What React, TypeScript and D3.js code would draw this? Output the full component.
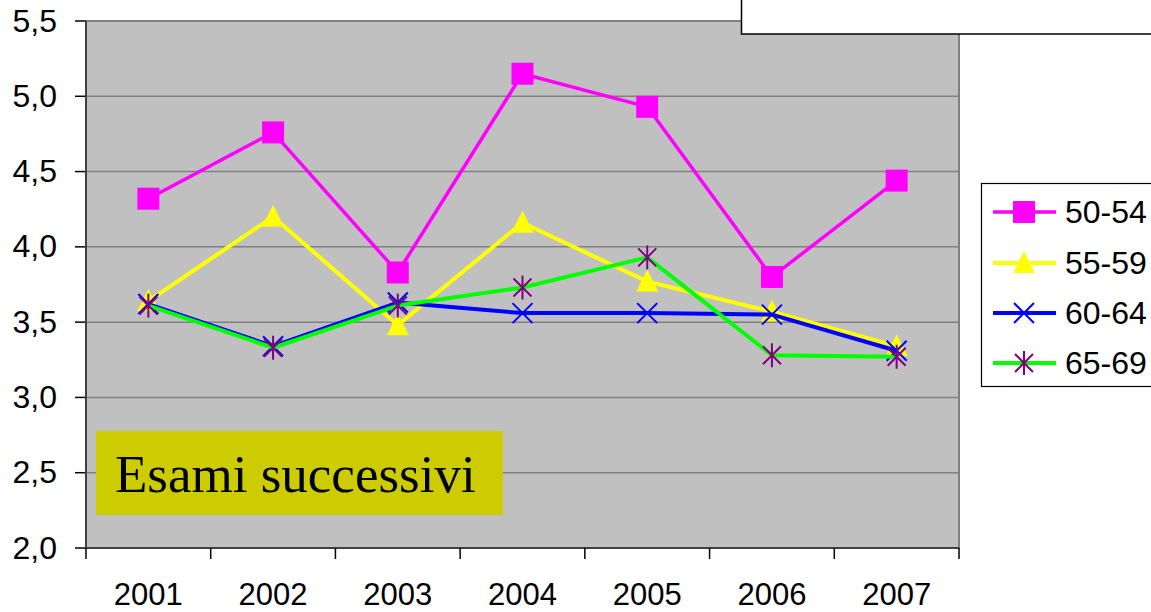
import React from 'react';
import * as d3 from 'd3';

const years = ['2001', '2002', '2003', '2004', '2005', '2006', '2007'];
const seriesNames = ['50-54', '55-59', '60-64', '65-69'];
const values5054 = [4.32, 4.76, 3.83, 5.15, 4.93, 3.80, 4.44];
const values5559 = [3.64, 4.20, 3.48, 4.16, 3.77, 3.57, 3.34];
const values6064 = [3.62, 3.34, 3.63, 3.56, 3.56, 3.55, 3.31];
const values6569 = [3.61, 3.33, 3.61, 3.73, 3.93, 3.28, 3.27];
const yTicks = [2.0, 2.5, 3.0, 3.5, 4.0, 4.5, 5.0, 5.5];

const allValues = [values5054, values5559, values6064, values6569];
const lineColors = ['#FF00FF', '#FFFF00', '#0000FF', '#00FF00'];
const markerTypes = ['square', 'triangle', 'x', 'star'];
const lineWidths = [3.5, 4, 4, 4];

const W = 1151;
const H = 612;
const plot = { left: 86, right: 959, top: 21, bottom: 548 };

const x = d3.scaleBand<string>().domain(years).range([plot.left, plot.right]).padding(0);
const y = d3.scaleLinear().domain([2, 5.5]).range([plot.bottom, plot.top]);
const fmt = (v: number) => v.toFixed(1).replace('.', ',');

function Marker({ type, cx, cy }: { type: string; cx: number; cy: number }) {
    if (type === 'square') {
        return <rect x={cx - 11} y={cy - 11} width={22} height={22} fill="#FF00FF" />;
    }
    if (type === 'triangle') {
        const p = d3.path();
        p.moveTo(cx, cy - 12);
        p.lineTo(cx + 11, cy + 10);
        p.lineTo(cx - 11, cy + 10);
        p.closePath();
        return <path d={p.toString()} fill="#FFFF00" />;
    }
    if (type === 'x') {
        const s = 10;
        return (
            <g stroke="#0000FF" strokeWidth={2}>
                <line x1={cx - s} y1={cy - s} x2={cx + s} y2={cy + s} />
                <line x1={cx - s} y1={cy + s} x2={cx + s} y2={cy - s} />
            </g>
        );
    }
    const s = 9;
    return (
        <g stroke="#800080" strokeWidth={2}>
            <line x1={cx - s} y1={cy - s} x2={cx + s} y2={cy + s} />
            <line x1={cx - s} y1={cy + s} x2={cx + s} y2={cy - s} />
            <line x1={cx} y1={cy - 12} x2={cx} y2={cy + 12} />
        </g>
    );
}

export default function App() {
    const line = d3.line<number>()
        .x((d, i) => (x(years[i]) as number) + x.bandwidth() / 2)
        .y(d => y(d));

    const legendY = [212, 263, 313, 363];

    return (
        <svg width={W} height={H} style={{ position: 'absolute', left: 0, top: 0, fontFamily: '"Liberation Sans", Arial, sans-serif' }}>
            <rect x={0} y={0} width={W} height={H} fill="#FFFFFF" />
            <rect x={plot.left} y={plot.top} width={plot.right - plot.left} height={plot.bottom - plot.top}
                fill="#C0C0C0" stroke="#808080" strokeWidth={2} />
            {yTicks.map(t => (
                <g key={t}>
                    {t > 2 && t < 5.5 && (
                        <line x1={plot.left} x2={plot.right} y1={y(t)} y2={y(t)} stroke="#808080" strokeWidth={1.5} />
                    )}
                    <line x1={plot.left - 11} x2={plot.left} y1={y(t)} y2={y(t)} stroke="#000" strokeWidth={1.5} />
                    <text x={57} y={y(t) - 1} dy="0.36em" textAnchor="end" fontSize={32} fill="#000">{fmt(t)}</text>
                </g>
            ))}
            <line x1={plot.left} x2={plot.left} y1={plot.top} y2={plot.bottom} stroke="#404040" strokeWidth={2} />
            <line x1={plot.left} x2={plot.right} y1={plot.bottom} y2={plot.bottom} stroke="#404040" strokeWidth={2} />
            {years.concat(['end']).map((yr, i) => {
                const tx = plot.left + i * x.bandwidth();
                return <line key={yr} x1={tx} x2={tx} y1={plot.bottom} y2={plot.bottom + 11} stroke="#000" strokeWidth={1.5} />;
            })}
            {years.map(yr => (
                <text key={yr} x={(x(yr) as number) + x.bandwidth() / 2} y={605} textAnchor="middle" fontSize={31} fill="#000">{yr}</text>
            ))}

            <rect x={96} y={431} width={407} height={84} fill="#CCCC00" />
            <text x={115} y={492} fontSize={53} fontFamily='"Liberation Serif", "Times New Roman", serif' fill="#000">Esami successivi</text>

            {allValues.map((vals, si) => (
                <g key={seriesNames[si]}>
                    <path d={line(vals) as string} fill="none" stroke={lineColors[si]} strokeWidth={lineWidths[si]} strokeLinejoin="round" />
                    {vals.map((v, i) => (
                        <Marker key={i} type={markerTypes[si]} cx={(x(years[i]) as number) + x.bandwidth() / 2} cy={y(v)} />
                    ))}
                </g>
            ))}

            <rect x={741.5} y={-5} width={420} height={39} fill="#FFFFFF" stroke="#000" strokeWidth={1.5} />

            <rect x={981.5} y={183.5} width={200} height={203} fill="#FFFFFF" stroke="#000" strokeWidth={1.2} />
            {seriesNames.map((name, si) => (
                <g key={name}>
                    <line x1={993} x2={1056} y1={legendY[si]} y2={legendY[si]} stroke={lineColors[si]} strokeWidth={lineWidths[si]} />
                    <Marker type={markerTypes[si]} cx={1024} cy={legendY[si]} />
                    <text x={1065} y={legendY[si] - 0.5} dy="0.36em" fontSize={32} fill="#000">{name}</text>
                </g>
            ))}
        </svg>
    );
}
